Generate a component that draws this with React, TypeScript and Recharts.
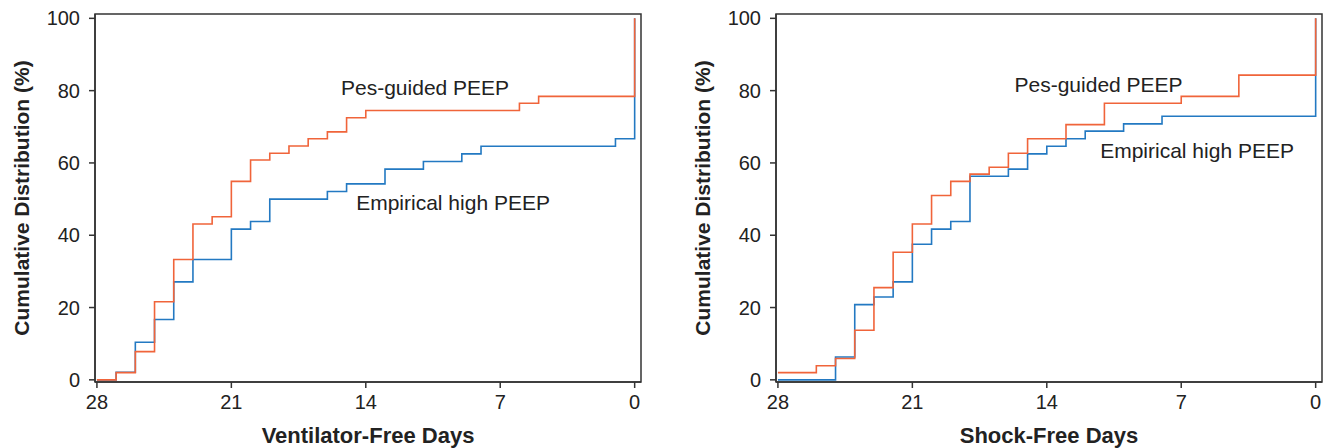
import React from 'react';
import {
  LineChart,
  Line,
  XAxis,
  YAxis,
  ReferenceArea,
  ReferenceDot,
} from 'recharts';

// days counted down from 28 to 0
const days = [28, 27, 26, 25, 24, 23, 22, 21, 20, 19, 18, 17, 16, 15, 14, 13, 12, 11, 10, 9, 8, 7, 6, 5, 4, 3, 2, 1, 0];

// Ventilator-free days, cumulative %
const ventPes = [0, 2.0, 7.8, 21.6, 33.3, 43.1, 45.1, 54.9, 60.8, 62.7, 64.7, 66.7, 68.6, 72.5, 74.5, 74.5, 74.5, 74.5, 74.5, 74.5, 74.5, 74.5, 76.5, 78.4, 78.4, 78.4, 78.4, 78.4, 100];
const ventEmp = [0, 2.1, 10.4, 16.7, 27.1, 33.3, 33.3, 41.7, 43.8, 50.0, 50.0, 50.0, 52.1, 54.2, 54.2, 58.3, 58.3, 60.4, 60.4, 62.5, 64.6, 64.6, 64.6, 64.6, 64.6, 64.6, 64.6, 66.7, 100];

// Shock-free days, cumulative %
const shockPes = [2.0, 2.0, 3.9, 5.9, 13.7, 25.5, 35.3, 43.1, 51.0, 54.9, 56.9, 58.8, 62.7, 66.7, 66.7, 70.6, 70.6, 76.5, 76.5, 76.5, 76.5, 78.4, 78.4, 78.4, 84.3, 84.3, 84.3, 84.3, 100];
const shockEmp = [0, 0, 0, 6.3, 20.8, 22.9, 27.1, 37.5, 41.7, 43.8, 56.3, 56.3, 58.3, 62.5, 64.6, 66.7, 68.8, 68.8, 70.8, 70.8, 72.9, 72.9, 72.9, 72.9, 72.9, 72.9, 72.9, 72.9, 100];

const xTicks = [28, 21, 14, 7, 0];
const yTicks = [0, 20, 40, 60, 80, 100];

const ORANGE = '#f0643a';
const BLUE = '#2379c2';
const INK = '#222';
const FONT = '"Liberation Sans", Arial, Helvetica, sans-serif';

const X_DOMAIN: [number, number] = [-0.33, 28.1];
const Y_DOMAIN: [number, number] = [-0.6, 101.2];

interface Note {
  text: string;
  x: number;
  y: number;
}

interface PanelProps {
  pes: number[];
  emp: number[];
  xTitle: string;
  notes: Note[];
}

const Panel: React.FC<PanelProps> = ({ pes, emp, xTitle, notes }) => {
  const data = days.map((d, i) => ({ day: d, pes: pes[i], emp: emp[i] }));
  return (
    <LineChart
      width={660}
      height={448}
      data={data}
      margin={{ top: 14, right: 19, left: 0, bottom: 0 }}
      style={{ fontFamily: FONT }}
    >
      <XAxis
        dataKey="day"
        type="number"
        domain={X_DOMAIN}
        reversed
        allowDataOverflow
        ticks={xTicks}
        height={66}
        tickSize={6}
        tickMargin={7}
        stroke="#333"
        strokeWidth={1.5}
        tick={{ fontSize: 20, fill: INK }}
        label={{ value: xTitle, position: 'insideBottom', offset: 5, fontSize: 22, fontWeight: 'bold', fill: INK }}
      />
      <YAxis
        type="number"
        domain={Y_DOMAIN}
        allowDataOverflow
        ticks={yTicks}
        width={95}
        tickSize={6}
        tickMargin={9}
        stroke="#333"
        strokeWidth={1.5}
        tick={{ fontSize: 20, fill: INK }}
        label={{
          value: 'Cumulative Distribution (%)',
          angle: -90,
          position: 'insideLeft',
          offset: 22,
          fontSize: 21,
          fontWeight: 'bold',
          fill: INK,
          style: { textAnchor: 'middle' },
        }}
      />
      <ReferenceArea
        x1={X_DOMAIN[1]}
        x2={X_DOMAIN[0]}
        y1={Y_DOMAIN[0]}
        y2={Y_DOMAIN[1]}
        fill="none"
        stroke="#333"
        strokeWidth={1.5}
        ifOverflow="visible"
      />
      <Line
        type="stepAfter"
        dataKey="emp"
        stroke={BLUE}
        strokeWidth={1.6}
        dot={false}
        activeDot={false}
        isAnimationActive={false}
      />
      <Line
        type="stepAfter"
        dataKey="pes"
        stroke={ORANGE}
        strokeWidth={1.6}
        dot={false}
        activeDot={false}
        isAnimationActive={false}
      />
      {notes.map((n) => (
        <ReferenceDot
          key={n.text}
          x={n.x}
          y={n.y}
          r={0}
          fill="none"
          stroke="none"
          label={{ value: n.text, position: 'right', offset: 0, fontSize: 21, fill: INK }}
        />
      ))}
    </LineChart>
  );
};

export default function App() {
  return (
    <div style={{ position: 'absolute', left: 0, top: 0, width: 1331, height: 448, background: '#fff' }}>
      <div style={{ position: 'absolute', left: 0, top: 0 }}>
        <Panel
          pes={ventPes}
          emp={ventEmp}
          xTitle="Ventilator-Free Days"
          notes={[
            { text: 'Pes-guided PEEP', x: 15.29, y: 80.9 },
            { text: 'Empirical high PEEP', x: 14.5, y: 49.1 },
          ]}
        />
      </div>
      <div style={{ position: 'absolute', left: 681, top: 0 }}>
        <Panel
          pes={shockPes}
          emp={shockEmp}
          xTitle="Shock-Free Days"
          notes={[
            { text: 'Pes-guided PEEP', x: 15.68, y: 81.8 },
            { text: 'Empirical high PEEP', x: 11.22, y: 63.5 },
          ]}
        />
      </div>
    </div>
  );
}
